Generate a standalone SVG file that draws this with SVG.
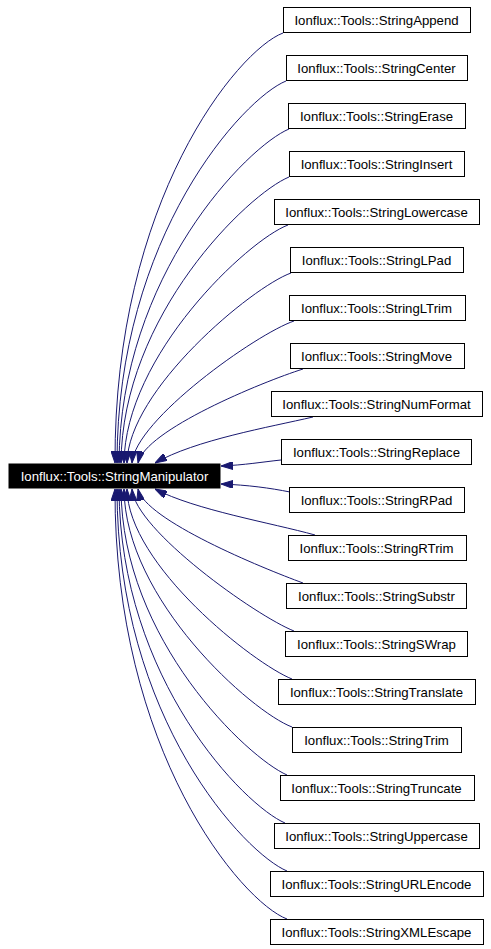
<svg xmlns="http://www.w3.org/2000/svg" width="491" height="949" viewBox="0 0 491 949">
<style>
.n rect{fill:#fff;stroke:#000;stroke-width:1}
.n text,.m text{font-family:"Liberation Sans",Arial,sans-serif;font-size:13.2px;text-anchor:middle}
.m rect{fill:#000;stroke:#000}
.m text{fill:#fff}
.e path{fill:none;stroke:#191970;stroke-width:1;marker-end:url(#ah)}
</style>
<defs>
<marker id="ah" viewBox="0 0 12 8" refX="12" refY="4" markerWidth="12" markerHeight="8" orient="auto" markerUnits="userSpaceOnUse">
<path d="M0,0 L12,4 L0,8 z" fill="#191970" stroke="#191970" stroke-width="1"/>
</marker>
</defs>
<rect width="491" height="949" fill="#fff"/>
<g id="edges" class="e">
<path d="M283,33 C238,50 114,200 115,463"/>
<path d="M286,81 C244,98 117,235 117,463"/>
<path d="M289,129 C248,146 120,275 119,463"/>
<path d="M289,177 C248,194 122,315 121,463"/>
<path d="M288,225 C248,240 125,355 124,463"/>
<path d="M291,273 C252,287 128,390 127,463"/>
<path d="M294,321 C256,334 135,420 132,463"/>
<path d="M303,369 C262,382 145,430 138,463"/>
<path d="M313,417 C270,427 195,440 155,463"/>
<path d="M281,460 C262,462 245,465 221,466"/>
<path d="M290,492 C270,488 248,485 221,484"/>
<path d="M315,535 C272,523 195,510 155,489"/>
<path d="M303,583 C262,568 145,520 138,489"/>
<path d="M294,631 C256,616 135,530 132,489"/>
<path d="M292,679 C254,664 128,565 127,489"/>
<path d="M292,727 C252,712 125,600 124,489"/>
<path d="M287,775 C248,758 122,640 121,489"/>
<path d="M285,823 C245,806 120,680 119,489"/>
<path d="M287,871 C246,854 117,720 117,489"/>
<path d="M287,919 C242,902 114,752 115,489"/>
</g>
<g id="StringManipulator" class="m"><rect x="9" y="464" width="211" height="24"/><text x="114.5" y="480.5">Ionflux::Tools::StringManipulator</text></g>
<g id="StringAppend" class="n"><rect x="283.5" y="7.5" width="187" height="25"/><text x="376.5" y="24.5">Ionflux::Tools::StringAppend</text></g>
<g id="StringCenter" class="n"><rect x="286.5" y="55.5" width="181" height="25"/><text x="376.5" y="72.5">Ionflux::Tools::StringCenter</text></g>
<g id="StringErase" class="n"><rect x="288.5" y="103.5" width="177" height="25"/><text x="376.5" y="120.5">Ionflux::Tools::StringErase</text></g>
<g id="StringInsert" class="n"><rect x="289.5" y="151.5" width="175" height="25"/><text x="376.5" y="168.5">Ionflux::Tools::StringInsert</text></g>
<g id="StringLowercase" class="n"><rect x="274.5" y="199.5" width="205" height="25"/><text x="376.5" y="216.5">Ionflux::Tools::StringLowercase</text></g>
<g id="StringLPad" class="n"><rect x="290.5" y="247.5" width="173" height="25"/><text x="376.5" y="264.5">Ionflux::Tools::StringLPad</text></g>
<g id="StringLTrim" class="n"><rect x="289.5" y="295.5" width="176" height="25"/><text x="376.5" y="312.5">Ionflux::Tools::StringLTrim</text></g>
<g id="StringMove" class="n"><rect x="290.5" y="343.5" width="174" height="25"/><text x="376.5" y="360.5">Ionflux::Tools::StringMove</text></g>
<g id="StringNumFormat" class="n"><rect x="271.5" y="391.5" width="211" height="25"/><text x="376.5" y="408.5">Ionflux::Tools::StringNumFormat</text></g>
<g id="StringReplace" class="n"><rect x="281.5" y="439.5" width="190" height="25"/><text x="376.5" y="456.5">Ionflux::Tools::StringReplace</text></g>
<g id="StringRPad" class="n"><rect x="289.5" y="487.5" width="175" height="25"/><text x="376.5" y="504.5">Ionflux::Tools::StringRPad</text></g>
<g id="StringRTrim" class="n"><rect x="288.5" y="535.5" width="178" height="25"/><text x="376.5" y="552.5">Ionflux::Tools::StringRTrim</text></g>
<g id="StringSubstr" class="n"><rect x="286.5" y="583.5" width="180" height="25"/><text x="376.5" y="600.5">Ionflux::Tools::StringSubstr</text></g>
<g id="StringSWrap" class="n"><rect x="285.5" y="631.5" width="182" height="25"/><text x="376.5" y="648.5">Ionflux::Tools::StringSWrap</text></g>
<g id="StringTranslate" class="n"><rect x="278.5" y="679.5" width="197" height="25"/><text x="376.5" y="696.5">Ionflux::Tools::StringTranslate</text></g>
<g id="StringTrim" class="n"><rect x="292.5" y="727.5" width="169" height="25"/><text x="376.5" y="744.5">Ionflux::Tools::StringTrim</text></g>
<g id="StringTruncate" class="n"><rect x="280.5" y="775.5" width="194" height="25"/><text x="376.5" y="792.5">Ionflux::Tools::StringTruncate</text></g>
<g id="StringUppercase" class="n"><rect x="274.5" y="823.5" width="205" height="25"/><text x="376.5" y="840.5">Ionflux::Tools::StringUppercase</text></g>
<g id="StringURLEncode" class="n"><rect x="270.5" y="871.5" width="213" height="25"/><text x="376.5" y="888.5">Ionflux::Tools::StringURLEncode</text></g>
<g id="StringXMLEscape" class="n"><rect x="270.5" y="919.5" width="213" height="25"/><text x="376.5" y="936.5">Ionflux::Tools::StringXMLEscape</text></g>
</svg>
